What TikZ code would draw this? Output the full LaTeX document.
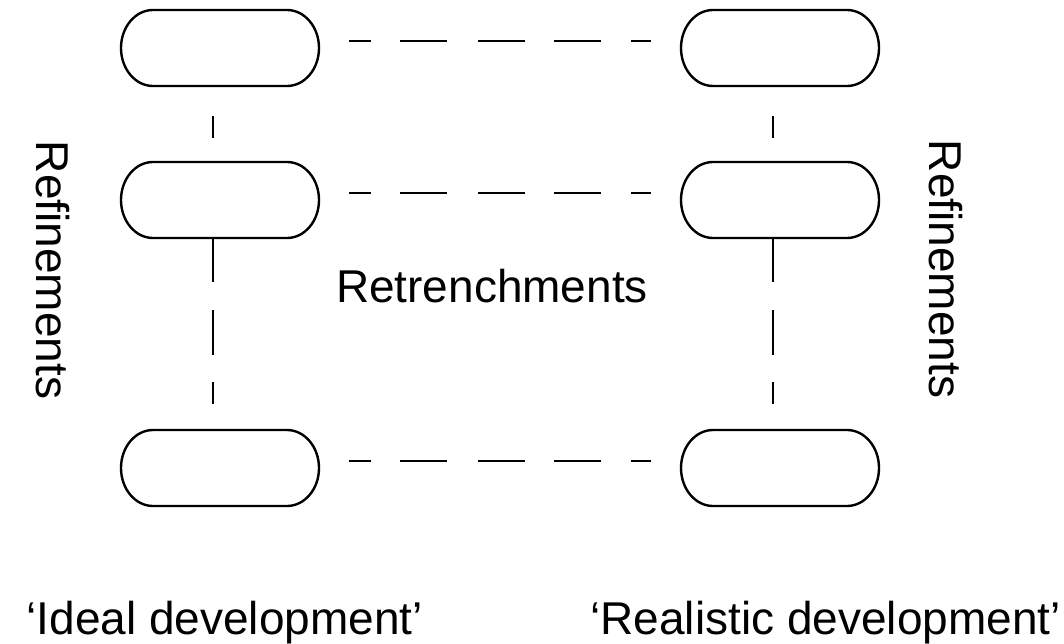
\documentclass[tikz,border=0pt]{standalone}
\usepackage{fontspec}
\setmainfont{Liberation Sans}
\begin{document}
\begin{tikzpicture}[x=1pt,y=-1pt,
  stage/.style={minimum width=198pt, minimum height=76pt, inner sep=0pt, outer sep=0pt},
  stageline/.style={line width=2.4pt},
  link/.style={line width=1.4pt},
  lbl/.style={inner sep=0pt, font=\fontsize{46pt}{55pt}\selectfont}]
\useasboundingbox (0,0) rectangle (1064,644);

% development stages: ideal (left) and realistic (right)
\node[stage] (i1) at (220,48) {};
\node[stage] (i2) at (220,200) {};
\node[stage] (i3) at (220,468) {};
\node[stage] (r1) at (780,48) {};
\node[stage] (r2) at (780,200) {};
\node[stage] (r3) at (780,468) {};

% stadium outlines with elliptic ends
\foreach \n in {i1,i2,i3,r1,r2,r3}{
  \draw[stageline] ([xshift=32pt]\n.north west) -- ([xshift=-32pt]\n.north east)
    arc[start angle=90, end angle=-90, x radius=32pt, y radius=38pt]
    -- ([xshift=32pt]\n.south west)
    arc[start angle=270, end angle=90, x radius=32pt, y radius=38pt] -- cycle;
}

% retrenchments between the two developments
\foreach \a/\b in {i1/r1,i2/r2,i3/r3}{
  \draw[link, dash pattern=on 22pt off 29pt on 47pt off 31pt on 47pt off 29pt on 47pt off 30pt on 20pt off 58pt, dash phase=330pt]
    ([yshift=7pt]\a.east) -- ([yshift=7pt]\b.west);
}

% refinements down each development
\foreach \a/\b in {i1/i2,r1/r2}{
  \draw[link, dash pattern=on 22pt off 54pt, dash phase=46pt]
    ([xshift=-7pt]\a.south) -- ([xshift=-7pt]\b.north);
}
\foreach \a/\b in {i2/i3,r2/r3}{
  \draw[link, dash pattern=on 44pt off 28pt on 45pt off 27pt on 22pt off 30pt]
    ([xshift=-7pt]\a.south) -- ([xshift=-7pt]\b.north);
}

% labels
\node[lbl, anchor=base] (retr) at (492,302) {Retrenchments};
\node[lbl, rotate=-90] (refl) at (53,270) {Refinements};
\node[lbl, rotate=-90] (refr) at (946,269) {Refinements};
\node[lbl, anchor=base east] (ideal) at (423,634) {‘Ideal development’};
\node[lbl, anchor=base east] (real) at (1061,634) {‘Realistic development’};
\end{tikzpicture}
\end{document}
